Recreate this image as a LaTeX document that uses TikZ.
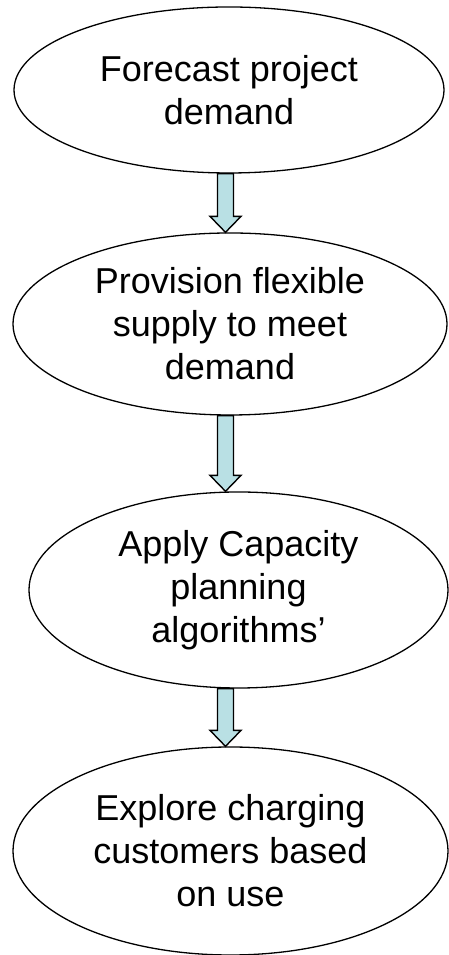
\documentclass[tikz,border=0pt]{standalone}
\usepackage{fontspec}
\setmainfont{Liberation Sans}
\usetikzlibrary{shapes.geometric,calc}
\definecolor{arrowblue}{RGB}{185,224,228}

\begin{document}
\begin{tikzpicture}[
		x=1pt,y=1pt,
		stage/.style={ellipse,draw,line width=1.3pt,inner sep=0pt,align=center,font=\fontsize{36}{43}\selectfont},
		flow/.style={draw,line width=1.4pt,fill=arrowblue,line join=miter}
		]
		\useasboundingbox (0,0) rectangle (448,955);
		\node[stage,minimum width=430pt,minimum height=166pt](e1) at (229,865){Forecast project\\demand};
		\node[stage,minimum width=434pt,minimum height=182pt](e2) at (230,631){Provision flexible\\supply to meet\\demand};
		\node[stage,minimum width=419pt,minimum height=196pt](e3) at (238.5,365){Apply Capacity\\planning\\algorithms’};
		\node[stage,minimum width=435pt,minimum height=208pt](e4) at (230.5,104){Explore charging\\customers based\\on use};
		\coordinate (ax) at (225.5,0);
		
		\foreach \a/\b in {e1/e2,e2/e3,e3/e4}
		\draw[flow] let \p1=(\a.south -| ax),\p2=(\b.north -| ax) in
		(\x1-8,\y1) -- (\x1-8,\y2+16) -- (\x1-15.5,\y2+16) -- (\x2,\y2)
		-- (\x1+15.5,\y2+16) -- (\x1+8,\y2+16) -- (\x1+8,\y1) -- cycle;
		
\end{tikzpicture}
\end{document}
